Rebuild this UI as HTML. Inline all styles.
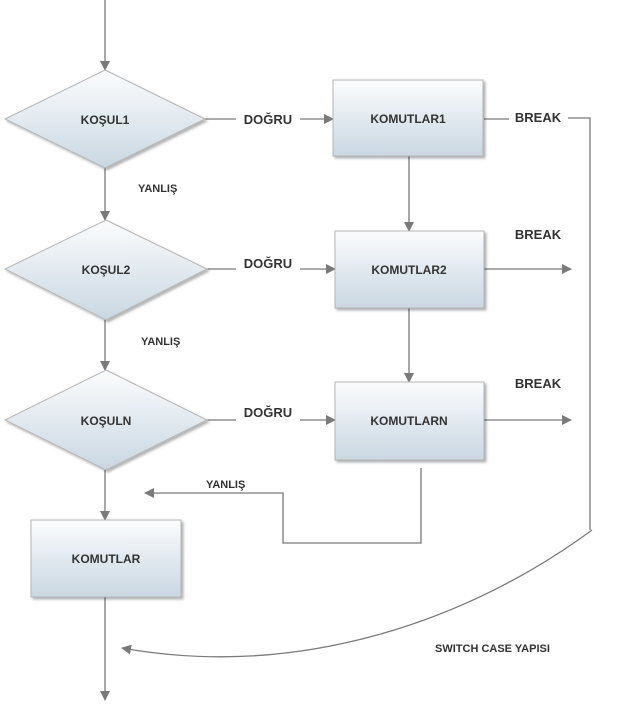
<!DOCTYPE html>
<html><head><meta charset="utf-8"><style>
html,body{margin:0;padding:0;background:#fff;width:624px;height:712px;overflow:hidden}
text{font-family:"Liberation Sans",sans-serif;font-weight:bold;fill:#333}
</style></head><body>
<svg width="624" height="712" viewBox="0 0 624 712" xmlns="http://www.w3.org/2000/svg">
<defs>
<linearGradient id="g" x1="0" y1="0" x2="0" y2="1">
<stop offset="0" stop-color="#fbfcfd"/><stop offset="1" stop-color="#c9d7e2"/>
</linearGradient>
<marker id="a" markerWidth="10" markerHeight="10" refX="9" refY="5" orient="auto" markerUnits="userSpaceOnUse">
<path d="M0,0 L10,5 L0,10 Z" fill="#7a7a7a"/>
</marker>
<filter id="s" x="-10%" y="-10%" width="130%" height="130%"><feDropShadow dx="2" dy="2" stdDeviation="1.2" flood-color="#000" flood-opacity="0.3"/></filter>
</defs>
<g stroke="#7a7a7a" stroke-width="1.3" fill="none">
<line x1="105" y1="0" x2="105" y2="70" marker-end="url(#a)"/>
<line x1="105" y1="168" x2="105" y2="220" marker-end="url(#a)"/>
<line x1="105" y1="320" x2="105" y2="370" marker-end="url(#a)"/>
<line x1="105" y1="470" x2="105" y2="520" marker-end="url(#a)"/>
<line x1="105" y1="597" x2="105" y2="700" marker-end="url(#a)"/>
<line x1="205" y1="119" x2="236" y2="119"/>
<line x1="300" y1="119" x2="333" y2="119" marker-end="url(#a)"/>
<line x1="207" y1="269" x2="236" y2="269"/>
<line x1="300" y1="269" x2="335" y2="269" marker-end="url(#a)"/>
<line x1="207" y1="420" x2="236" y2="420"/>
<line x1="300" y1="420" x2="335" y2="420" marker-end="url(#a)"/>
<line x1="409" y1="156" x2="409" y2="231" marker-end="url(#a)"/>
<line x1="409" y1="308" x2="409" y2="382" marker-end="url(#a)"/>
<line x1="484" y1="119" x2="509" y2="119"/>
<polyline points="568,118 590,118 590,530"/>
<line x1="484" y1="269" x2="571" y2="269" marker-end="url(#a)"/>
<line x1="484" y1="420" x2="571" y2="420" marker-end="url(#a)"/>
<polyline points="421,468 421,543 283,543 283,493 145,493" marker-end="url(#a)"/>
<path d="M592,530 C470,620 300,680 122,648" marker-end="url(#a)"/>
</g>
<g filter="url(#s)" stroke="#b5b5b5" stroke-width="1" fill="url(#g)">
<polygon points="105,70 205,119 105,168 5,119"/>
<polygon points="106,220 207,269 106,320 5,269"/>
<polygon points="106,370 207,420 106,470 5,420"/>
<rect x="333" y="80" width="150" height="76"/>
<rect x="335" y="231" width="149" height="77"/>
<rect x="335" y="382" width="149" height="78"/>
<rect x="31" y="520" width="150" height="77"/>
</g>
<g font-size="12" text-anchor="middle">
<text x="105" y="124">KOŞUL1</text>
<text x="106" y="274">KOŞUL2</text>
<text x="106" y="425">KOŞULN</text>
<text x="408" y="123">KOMUTLAR1</text>
<text x="409" y="274">KOMUTLAR2</text>
<text x="409" y="425">KOMUTLARN</text>
<text x="106" y="563">KOMUTLAR</text>
</g>
<g font-size="13" text-anchor="middle">
<text x="268" y="124">DOĞRU</text>
<text x="268" y="268">DOĞRU</text>
<text x="268" y="417">DOĞRU</text>
<text x="538" y="122">BREAK</text>
<text x="538" y="239">BREAK</text>
<text x="538" y="388">BREAK</text>
</g>
<g font-size="11">
<text x="138" y="192">YANLIŞ</text>
<text x="141" y="345">YANLIŞ</text>
<text x="206" y="488">YANLIŞ</text>
<text x="435" y="652">SWITCH CASE YAPISI</text>
</g>
</svg>
</body></html>
